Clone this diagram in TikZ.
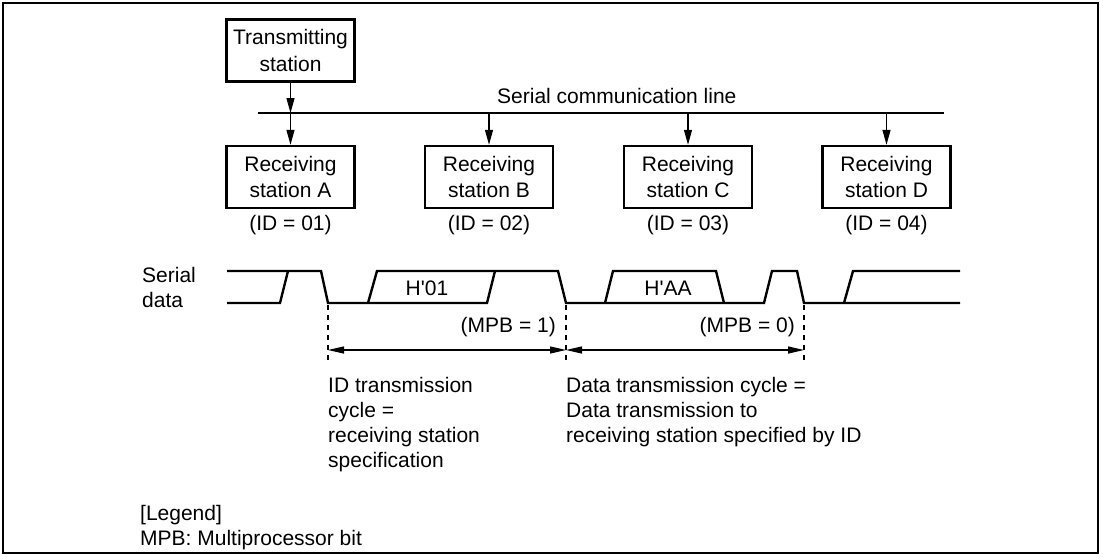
\documentclass[tikz,border=0pt]{standalone}
\usepackage{fontspec}
\newfontfamily\lsans{Liberation Sans}
\usetikzlibrary{arrows.meta}
\begin{document}
\begin{tikzpicture}[x=1pt,y=-1pt,
  txt/.style={font=\lsans\fontsize{21}{25}\selectfont, inner sep=0pt},
  station/.style={draw, line width=2.4pt, minimum width=128pt, minimum height=62pt,
    align=center, font=\lsans\fontsize{21}{26.5}\selectfont, inner sep=0pt},
  feed/.style={line width=1.2pt, -{Triangle[length=15pt,width=8pt]}},
  bus/.style={line width=1.3pt},
  wave/.style={line width=2.4pt, line join=miter},
  guide/.style={line width=1.2pt, dash pattern=on 5pt off 5pt},
  dim/.style={line width=1.2pt, {Triangle[length=16pt,width=7pt]}-{Triangle[length=16pt,width=7pt]}}
]
\useasboundingbox (0,0) rectangle (1103,557);
\draw[line width=2.5pt] (3,3) rectangle (1098,553);

% stations
\node[station] (tx) at (290.5,50.5) {Transmitting\\station};
\node[station] (rA) at (290.5,177) {Receiving\\station A};
\node[station] (rB) at (489,177) {Receiving\\station B};
\node[station] (rC) at (688,177) {Receiving\\station C};
\node[station] (rD) at (886.5,177) {Receiving\\station D};

\node[txt] (idA) at (290.5,225) {(ID = 01)};
\node[txt] (idB) at (489,225) {(ID = 02)};
\node[txt] (idC) at (688,225) {(ID = 03)};
\node[txt] (idD) at (886.5,225) {(ID = 04)};

% serial communication line
\coordinate (lineL) at (258,113);
\coordinate (lineR) at (944,113);
\draw[bus] (lineL) -- (lineR);
\node[txt, anchor=base west] (sclabel) at (497,103) {Serial communication line};

\coordinate (jA) at (tx.south |- lineL);
\draw[feed] (tx.south) -- (jA);
\draw[feed] (jA) -- (rA.north);
\draw[feed] (rB.north |- lineL) -- (rB.north);
\draw[feed] (rC.north |- lineL) -- (rC.north);
\draw[feed] (rD.north |- lineL) -- (rD.north);

% serial data waveform
\node[txt, anchor=west, align=left] (sdlabel) at (142,287) {Serial\\data};
\draw[wave] (227,271) -- (321,271) -- (328,303) -- (487,303) -- (495,271);
\draw[wave] (227,303) -- (280,303) -- (288,271);
\draw[wave] (368,303) -- (377,271) -- (558,271) -- (566,303) -- (764,303) -- (772,271)
  -- (797,271) -- (804,303) -- (960,303);
\draw[wave] (605,303) -- (613,271) -- (716,271) -- (724,303);
\draw[wave] (844,303) -- (853,271) -- (960,271);
\node[txt] (h01) at (427,288) {H'01};
\node[txt] (haa) at (668,288) {H'AA};

% cycle marks
\coordinate (g1) at (328,305);
\coordinate (g2) at (566,305);
\coordinate (g3) at (804,305);
\coordinate (d1) at (328,350);
\coordinate (d2) at (566,350);
\coordinate (d3) at (804,350);
\draw[guide] (g1) -- ++(0,58);
\draw[guide] (g2) -- ++(0,58);
\draw[guide] (g3) -- ++(0,58);
\draw[dim] (d1) -- (d2);
\draw[dim] (d2) -- (d3);
\node[txt, anchor=east] (mpb1) at (556,327) {(MPB = 1)};
\node[txt, anchor=east] (mpb0) at (795,327) {(MPB = 0)};

\node[txt, anchor=north west, align=left] (idcyc) at (328,377)
  {ID transmission\\cycle =\\receiving station\\specification};
\node[txt, anchor=north west, align=left] (datacyc) at (566,377)
  {Data transmission cycle =\\Data transmission to\\receiving station specified by ID};

% legend
\node[txt, anchor=north west, align=left] (legend) at (140,505)
  {[Legend]\\MPB: Multiprocessor bit};
\end{tikzpicture}
\end{document}
